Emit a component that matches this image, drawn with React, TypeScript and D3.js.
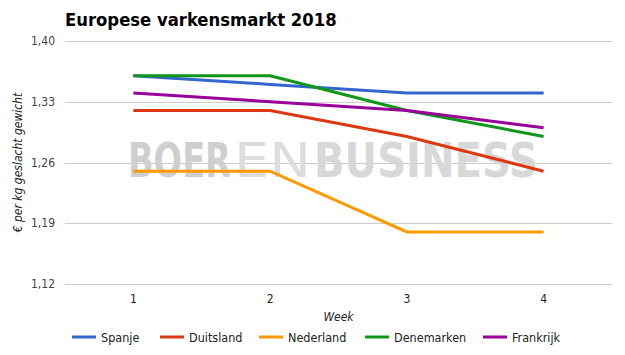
import * as d3 from "d3";
import { useEffect, useRef } from "react";

const weeks = ["1", "2", "3", "4"];
const seriesNames = ["Spanje", "Duitsland", "Nederland", "Denemarken", "Frankrijk"];
const spanje = [1.36, 1.35, 1.34, 1.34];
const duitsland = [1.32, 1.32, 1.29, 1.25];
const nederland = [1.25, 1.25, 1.18, 1.18];
const denemarken = [1.36, 1.36, 1.32, 1.29];
const frankrijk = [1.34, 1.33, 1.32, 1.3];
const yTicks = [1.12, 1.19, 1.26, 1.33, 1.4];
const colors = ["#3366cc", "#dc3912", "#ff9900", "#109618", "#990099"];
// logo pieces: em = advance width of the word in em units
const watermark = [
    { text: "BOER", fill: "#cfcfcf", weight: "bold", x0: 128, x1: 231, em: 3.065 },
    { text: "EN", fill: "#dddddd", weight: "normal", x0: 234, x1: 311, em: 1.38 },
    { text: "BUSINESS", fill: "#d8d8d8", weight: "bold", x0: 314, x1: 538, em: 5.626 },
];

const FONT = "'DejaVu Sans Condensed', 'DejaVu Sans', sans-serif";

function App() {
    const ref = useRef<SVGSVGElement>(null);

    useEffect(() => {
        const svg = d3.select(ref.current);
        svg.selectAll("*").remove();

        const width = 625;
        const height = 355;
        const margin = { top: 41, right: 13, bottom: 71, left: 65 };
        const plotW = width - margin.left - margin.right;
        const plotH = height - margin.top - margin.bottom;

        svg.attr("width", width).attr("height", height);
        svg.append("rect").attr("width", width).attr("height", height).attr("fill", "#fff");

        const g = svg.append("g").attr("transform", `translate(${margin.left},${margin.top})`);

        const x = d3.scalePoint().domain(weeks).range([0, plotW]).padding(0.5);
        const y = d3.scaleLinear().domain([1.12, 1.4]).range([plotH, 0]);

        // title
        svg.append("text")
            .attr("x", 65)
            .attr("y", 26)
            .style("font-family", FONT)
            .style("font-size", "18.3px")
            .style("font-weight", "bold")
            .attr("fill", "#000")
            .text("Europese varkensmarkt 2018");

        // gridlines
        g.selectAll(".grid")
            .data(yTicks)
            .enter()
            .append("line")
            .attr("x1", 0)
            .attr("x2", plotW)
            .attr("y1", d => Math.round(y(d)) + 0.5)
            .attr("y2", d => Math.round(y(d)) + 0.5)
            .attr("stroke", "#cccccc")
            .attr("stroke-width", 1);

        // y tick labels
        g.selectAll(".ylab")
            .data(yTicks)
            .enter()
            .append("text")
            .attr("x", -10)
            .attr("y", d => y(d) + 4)
            .attr("text-anchor", "end")
            .style("font-family", FONT)
            .style("font-size", "12px")
            .attr("fill", "#444")
            .text(d => d3.format(".2f")(d).replace(".", ","));

        // x tick labels
        g.selectAll(".xlab")
            .data(weeks)
            .enter()
            .append("text")
            .attr("x", d => x(d)!)
            .attr("y", plotH + 19)
            .attr("text-anchor", "middle")
            .style("font-family", FONT)
            .style("font-size", "12px")
            .attr("fill", "#222")
            .text(d => d);

        // watermark (logo text), behind the lines
        const capH = 35;
        watermark.forEach(w => {
            const len = w.x1 - w.x0;
            const fs = len / w.em;
            const sy = capH / (0.729 * fs);
            g.append("text")
                .attr("transform", `translate(${w.x0 - margin.left},${177 - margin.top}) scale(1,${sy})`)
                .attr("textLength", len)
                .attr("lengthAdjust", "spacingAndGlyphs")
                .style("font-family", "'DejaVu Sans', sans-serif")
                .style("font-size", `${fs}px`)
                .style("font-weight", w.weight)
                .attr("fill", w.fill)
                .text(w.text);
        });

        // lines
        const series = [spanje, duitsland, nederland, denemarken, frankrijk];
        const line = d3
            .line<number>()
            .x((_, i) => x(weeks[i])!)
            .y(d => y(d));

        series.forEach((vals, i) => {
            g.append("path")
                .datum(vals)
                .attr("d", line)
                .attr("fill", "none")
                .attr("stroke", colors[i])
                .attr("stroke-width", 3);
        });

        // axis titles
        svg.append("text")
            .attr("x", margin.left + plotW / 2)
            .attr("y", 321)
            .attr("text-anchor", "middle")
            .style("font-family", FONT)
            .style("font-size", "12px")
            .style("font-style", "italic")
            .attr("fill", "#222")
            .text("Week");

        svg.append("text")
            .attr("transform", "rotate(-90)")
            .attr("x", -(margin.top + plotH / 2))
            .attr("y", 22)
            .attr("text-anchor", "middle")
            .style("font-family", FONT)
            .style("font-size", "12px")
            .style("font-style", "italic")
            .attr("fill", "#222")
            .text("€ per kg geslacht gewicht");

        // legend
        const legendX = [72, 160, 259, 365, 483];
        seriesNames.forEach((name, i) => {
            const row = svg.append("g").attr("transform", `translate(${legendX[i]}, 337)`);
            row.append("line")
                .attr("x1", 0)
                .attr("x2", 24)
                .attr("y1", 0)
                .attr("y2", 0)
                .attr("stroke", colors[i])
                .attr("stroke-width", 3);
            row.append("text")
                .attr("x", 29)
                .attr("y", 5)
                .style("font-family", FONT)
                .style("font-size", "12.5px")
                .attr("fill", "#222")
                .text(name);
        });
    }, []);

    return <svg ref={ref} style={{ position: "absolute", left: 0, top: 0 }} />;
}

export default App;
